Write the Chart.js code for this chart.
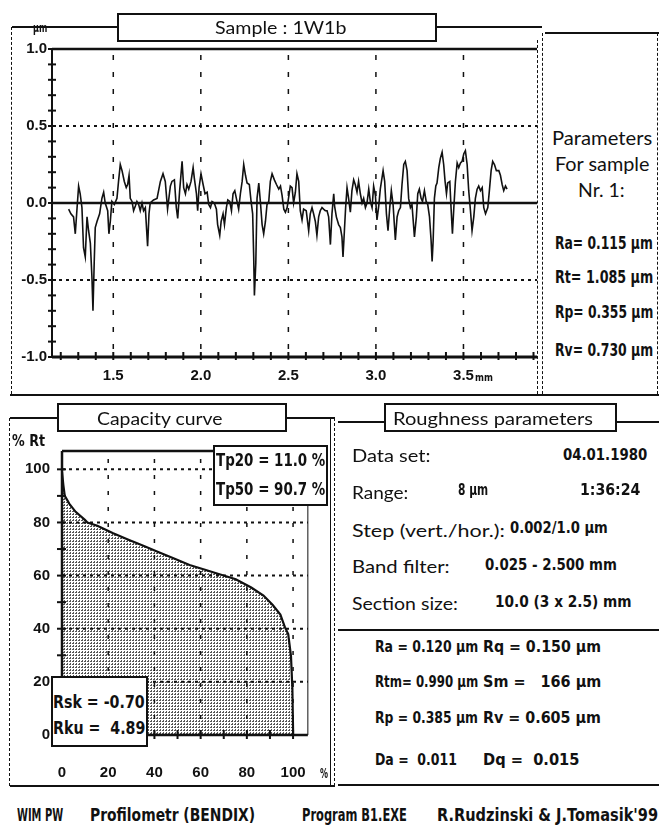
<!DOCTYPE html>
<html>
<head>
<meta charset="utf-8">
<script src="https://cdn.jsdelivr.net/npm/chart.js@4.4.0/dist/chart.umd.min.js"></script>
<style>
  body { margin: 0; background: #fff; }
  #page { position: relative; width: 659px; height: 839px; overflow: hidden; font-family: Lato, "Open Sans", sans-serif; color: #111; }
  .ln { position: absolute; background: #111; }
  .t { position: absolute; white-space: pre; line-height: 1; transform-origin: 0 50%; z-index: 4; }
  .dos { font-family: "DejaVu Sans", sans-serif; font-weight: bold; }
  .box { position: absolute; background: #fff; border: 2px solid #111; box-sizing: border-box; z-index: 3; }
  .holder { position: absolute; }
</style>
</head>
<body>
<div id="page">
  <div class="holder" style="left:0;top:0;width:545px;height:400px"><canvas id="profileChart" width="545" height="400"></canvas></div>
  <div class="holder" style="left:0;top:430px;width:335px;height:360px"><canvas id="capacityChart" width="335" height="360"></canvas></div>
</div>
<script>
// Profile trace (position in mm, height in um)
const profilePos = [
  1.245, 1.258, 1.273, 1.283, 1.292, 1.302, 1.311, 1.321, 1.330, 1.340, 1.350, 1.359, 1.369, 1.378, 1.384, 1.391,
  1.397, 1.407, 1.422, 1.435, 1.445, 1.454, 1.468, 1.475, 1.483, 1.492, 1.506, 1.521, 1.530, 1.540, 1.550, 1.563,
  1.574, 1.582, 1.590, 1.597, 1.607, 1.616, 1.626, 1.635, 1.645, 1.654, 1.664, 1.673, 1.683, 1.696, 1.704, 1.711,
  1.730, 1.750, 1.769, 1.784, 1.797, 1.810,
  1.826, 1.835, 1.849, 1.860, 1.868, 1.879, 1.893, 1.902, 1.912, 1.921, 1.931, 1.944, 1.956, 1.963, 1.975, 1.982,
  1.990, 2.001, 2.013, 2.024, 2.036, 2.045, 2.055, 2.064, 2.077, 2.089, 2.096, 2.108, 2.116, 2.127, 2.135, 2.146,
  2.154, 2.165, 2.175, 2.184, 2.194, 2.203, 2.216, 2.226, 2.236, 2.245, 2.255, 2.264, 2.277, 2.287, 2.296, 2.302,
  2.306, 2.314, 2.321, 2.331, 2.340, 2.350, 2.359, 2.369, 2.378, 2.388, 2.397, 2.407, 2.420, 2.432, 2.445, 2.455,
  2.464, 2.474, 2.483, 2.493,
  2.511, 2.521, 2.530, 2.540, 2.549, 2.559, 2.568, 2.578, 2.587, 2.602, 2.616, 2.625, 2.635, 2.644, 2.654, 2.663,
  2.673, 2.682, 2.692, 2.701, 2.711, 2.721, 2.730, 2.740, 2.749, 2.759, 2.764, 2.774, 2.787, 2.797, 2.806, 2.812,
  2.820, 2.827, 2.835, 2.844, 2.854, 2.863, 2.873, 2.882, 2.892, 2.901, 2.911, 2.921, 2.930, 2.940, 2.949, 2.959,
  2.968, 2.978, 2.987, 2.997, 3.006, 3.016, 3.025, 3.041, 3.050, 3.060, 3.069, 3.079, 3.088, 3.098, 3.111, 3.121,
  3.130, 3.140, 3.149, 3.159, 3.168, 3.178, 3.187, 3.197, 3.206, 3.220,
  3.231, 3.239, 3.248, 3.258, 3.266, 3.277, 3.287, 3.296, 3.306, 3.315, 3.321, 3.327, 3.334, 3.342, 3.349, 3.359,
  3.368, 3.378, 3.387, 3.395, 3.403, 3.410, 3.422, 3.429, 3.437, 3.445, 3.454, 3.464, 3.473, 3.483, 3.492, 3.502,
  3.511, 3.521, 3.530, 3.540, 3.549, 3.559, 3.568, 3.578, 3.587, 3.597, 3.607, 3.616, 3.626, 3.639, 3.648, 3.658,
  3.667, 3.677, 3.688, 3.702, 3.711, 3.721, 3.730, 3.740, 3.749
];
const profileHeight = [
  -0.04, -0.07, -0.09, -0.20, -0.05, 0.11, 0.06, -0.03, -0.29, -0.35, -0.09, -0.18, -0.26, -0.48, -0.70, -0.39,
  -0.16, -0.12, -0.07, 0.03, 0.07, 0.00, -0.05, -0.20, -0.12, 0.01, -0.01, 0.03, 0.14, 0.25, 0.21, 0.14,
  0.10, 0.12, 0.18, 0.03, 0.01, -0.05, -0.02, 0.01, -0.01, -0.05, 0.00, -0.05, -0.03, -0.28, -0.07, 0.00,
  0.02, 0.03, 0.14, 0.19, 0.14, -0.04,
  0.11, 0.14, 0.15, -0.03, -0.10, 0.08, 0.27, 0.10, 0.06, 0.12, 0.09, 0.14, 0.23, 0.16, 0.06, -0.05,
  0.10, 0.19, 0.12, 0.06, 0.07, -0.01, -0.03, 0.01, 0.00, -0.04, -0.14, -0.21, -0.12, -0.07, -0.14, -0.03,
  0.02, 0.01, -0.05, 0.06, 0.08, 0.03, -0.04, 0.06, 0.14, 0.25, 0.18, 0.13, 0.12, 0.01, -0.07, -0.35,
  -0.60, -0.39, 0.03, 0.13, 0.01, -0.14, -0.20, -0.12, -0.01, 0.01, 0.14, 0.19, 0.15, 0.12, 0.09, 0.11,
  0.05, -0.04, -0.06, -0.03,
  0.11, 0.10, 0.00, 0.07, 0.19, 0.14, -0.05, -0.11, -0.04, -0.05, -0.18, -0.07, -0.03, -0.07, -0.12, -0.21,
  -0.09, -0.05, -0.03, -0.04, -0.05, -0.05, -0.09, -0.27, -0.07, 0.06, -0.02, -0.09, -0.14, -0.16, -0.22, -0.35,
  -0.18, -0.03, 0.10, 0.03, -0.06, 0.08, 0.15, 0.12, 0.07, 0.14, 0.06, 0.00, 0.03, -0.03, 0.00, 0.09,
  0.01, -0.03, 0.11, 0.05, -0.11, -0.02, 0.09, 0.21, 0.14, -0.07, -0.18, -0.03, 0.08, -0.01, -0.24, -0.09,
  -0.05, -0.03, 0.12, 0.25, 0.27, 0.21, 0.03, -0.03, -0.01, -0.22,
  -0.09, 0.06, 0.09, 0.03, 0.01, 0.08, 0.01, -0.01, -0.09, -0.24, -0.38, -0.24, 0.03, 0.11, 0.13, 0.23,
  0.29, 0.33, 0.25, 0.14, 0.06, 0.13, 0.14, -0.03, -0.20, -0.03, 0.14, 0.26, 0.23, 0.26, 0.27, 0.32,
  0.34, 0.25, 0.08, -0.05, -0.18, -0.09, 0.03, 0.09, 0.11, 0.08, 0.10, -0.03, -0.07, -0.03, 0.08, 0.21,
  0.27, 0.25, 0.21, 0.21, 0.18, 0.12, 0.08, 0.11, 0.09
];

// Profile axes
const profileXLabels = [1.5, 2.0, 2.5, 3.0, 3.5];
const profileXMinor = [1.2, 1.3, 1.4, 1.5, 1.6, 1.7, 1.8, 1.9, 2.0, 2.1, 2.2, 2.3, 2.4, 2.5, 2.6, 2.7, 2.8, 2.9, 3.0, 3.1, 3.2, 3.3, 3.4, 3.5, 3.6, 3.7, 3.8, 3.9];
const profileYLabels = [-1.0, -0.5, 0.0, 0.5, 1.0];
const profileYMinor = [-1.0, -0.9, -0.8, -0.7, -0.6, -0.5, -0.4, -0.3, -0.2, -0.1, 0.0, 0.1, 0.2, 0.3, 0.4, 0.5, 0.6, 0.7, 0.8, 0.9, 1.0];
const profileDottedY = [0.5, -0.5];

// Capacity (bearing) curve: bearing ratio in %, level in % Rt
const bearingRatio = [0, 0.6, 1.2, 3.2, 5.9, 9.9, 11.0, 15.3, 21.9, 28.5, 35.2, 41.9, 48.5, 55.2, 61.9, 68.5, 75.2, 81.9, 87.2, 91.2, 94.5, 96.5, 97.9, 99.1, 99.7, 100, 100];
const bearingLevel = [99, 94, 90, 87, 84, 81, 80, 78.8, 76, 73.6, 71.2, 68.8, 66.4, 64, 62.2, 60.4, 58.6, 55.5, 52.5, 48.9, 45.3, 40.5, 38, 29.7, 17.5, 2, 0];
const capTicks = [0, 10, 20, 30, 40, 50, 60, 70, 80, 90, 100];
const capLabels = [0, 20, 40, 60, 80, 100];
const capDotted = [20, 40, 60, 80, 100];

const INK = '#111';
const tickFont = { family: '"Liberation Sans", Arial, sans-serif', weight: 'bold' };

// ---------- frames and text ----------
const page = document.getElementById('page');

function hline(x1, x2, y, w) {
  const d = document.createElement('div');
  d.className = 'ln';
  Object.assign(d.style, { left: x1 + 'px', top: (y - w / 2) + 'px', width: (x2 - x1) + 'px', height: w + 'px' });
  page.appendChild(d);
}
function vline(x, y1, y2, w, dashed) {
  const d = document.createElement('div');
  Object.assign(d.style, { position: 'absolute', left: (x - w / 2) + 'px', top: y1 + 'px', width: '0px', height: (y2 - y1) + 'px',
    borderLeft: w + 'px ' + (dashed ? 'dashed' : 'solid') + ' ' + INK });
  page.appendChild(d);
}
function box(x, y, w, h) {
  const d = document.createElement('div');
  d.className = 'box';
  Object.assign(d.style, { left: x + 'px', top: y + 'px', width: w + 'px', height: h + 'px' });
  page.appendChild(d);
}
// x is the left edge, centre or right edge (align); w is the width to squeeze the text into
function text(str, x, cy, size, w, opts) {
  opts = opts || {};
  const d = document.createElement('div');
  d.className = 't' + (opts.dos ? ' dos' : '');
  d.textContent = str;
  d.style.fontSize = size + 'px';
  d.style.top = (cy - size / 2) + 'px';
  page.appendChild(d);
  let left = x;
  if (opts.align === 'center') left = x - w / 2;
  if (opts.align === 'right') left = x - w;
  d.style.left = left + 'px';
  d.style.transform = 'scaleX(' + (w / d.offsetWidth) + ')';
}

// top panel
hline(12, 117, 27, 2);
box(117, 13, 320, 29);
hline(437, 542, 27, 2);
hline(545, 659, 33, 2);
vline(12, 27, 394, 1.5, true);
vline(538, 40, 394, 1.5, true);
vline(543, 33, 394, 1.5, true);
vline(657, 33, 394, 1, true);
hline(10, 659, 395, 2.5);
text('μm', 33, 28, 12, 14, { dos: true });
text('Sample : 1W1b', 281, 27, 18, 132, { align: 'center' });
text('Parameters', 602, 137, 19, 100, { align: 'center' });
text('For sample', 602, 163, 19, 95, { align: 'center' });
text('Nr. 1:', 601, 189, 19, 47, { align: 'center' });
text('Ra= 0.115 μm', 555, 243, 17, 98, { dos: true });
text('Rt= 1.085 μm', 555, 277, 17, 98, { dos: true });
text('Rp= 0.355 μm', 555, 312, 17, 98, { dos: true });
text('Rv= 0.730 μm', 555, 350, 17, 98, { dos: true });
text('mm', 475, 377, 11, 18, { dos: true });

// bottom-left panel
hline(10, 57, 418, 2);
box(57, 403, 230, 29);
hline(287, 335, 418, 2);
vline(10, 418, 786, 1.5, true);
hline(10, 335, 786, 2);
vline(331, 418, 786, 1.5, false);
vline(335, 418, 786, 1.5, true);
text('Capacity curve', 160, 418, 18, 126, { align: 'center' });
text('% Rt', 12, 441, 15, 33, { dos: true });
text('%', 320, 773, 14, 8, { dos: true });
box(213, 445, 115, 61);
text('Tp20 = 11.0 %', 216, 460, 17, 109, { dos: true });
text('Tp50 = 90.7 %', 216, 489, 17, 109, { dos: true });
box(51, 676, 97, 71);
text('Rsk = -0.70', 53, 702, 17, 92, { dos: true });
text('Rku =  4.89', 53, 728, 17, 92, { dos: true });

// bottom-right panel
hline(338, 384, 422, 2);
box(384, 403, 233, 29);
hline(617, 659, 422, 2);
hline(338, 659, 630, 2);
hline(338, 659, 785, 2);
text('Roughness parameters', 493, 418, 18, 200, { align: 'center' });
text('Data set:', 352, 455, 18, 78);
text('04.01.1980', 647, 455, 16, 84, { dos: true, align: 'right' });
text('Range:', 352, 492, 18, 56);
text('8 μm', 458, 490, 16, 30, { dos: true });
text('1:36:24', 640, 490, 16, 60, { dos: true, align: 'right' });
text('Step (vert./hor.):', 352, 530, 18, 153);
text('0.002/1.0 μm', 510, 528, 16, 98, { dos: true });
text('Band filter:', 352, 566, 18, 98);
text('0.025 - 2.500 mm', 485, 565, 16, 132, { dos: true });
text('Section size:', 352, 603, 18, 106);
text('10.0 (3 x 2.5) mm', 495, 602, 16, 137, { dos: true });
text('Ra = 0.120 μm', 375, 647, 16, 103, { dos: true });
text('Rq = 0.150 μm', 483, 647, 16, 118, { dos: true });
text('Rtm= 0.990 μm', 375, 682, 16, 103, { dos: true });
text('Sm =   166 μm', 483, 682, 16, 118, { dos: true });
text('Rp = 0.385 μm', 375, 718, 16, 103, { dos: true });
text('Rv = 0.605 μm', 483, 718, 16, 118, { dos: true });
text('Da =  0.011', 375, 760, 16, 82, { dos: true });
text('Dq =  0.015', 483, 760, 16, 96, { dos: true });

// footer
text('WIM PW', 17, 815, 17, 46, { dos: true });
text('Profilometr (BENDIX)', 90, 815, 17, 165, { dos: true });
text('Program B1.EXE', 302, 815, 17, 105, { dos: true });
text("R.Rudzinski & J.Tomasik'99", 437, 815, 17, 221, { dos: true });

// ---------- chart helpers ----------
function seg(ctx, x1, y1, x2, y2) {
  ctx.beginPath();
  ctx.moveTo(x1, y1);
  ctx.lineTo(x2, y2);
  ctx.stroke();
}

// Profile grid, axes and + tick marks
const profileGuides = {
  id: 'profileGuides',
  beforeDatasetsDraw(chart) {
    const { ctx, chartArea: a, scales: { x, y } } = chart;
    ctx.save();
    ctx.strokeStyle = INK;
    ctx.lineWidth = 2;
    ctx.setLineDash([3, 4]);
    profileDottedY.forEach(v => seg(ctx, a.left, y.getPixelForValue(v), a.right, y.getPixelForValue(v)));
    ctx.lineWidth = 1.5;
    ctx.setLineDash([5, 12]);
    profileXLabels.forEach(v => seg(ctx, x.getPixelForValue(v), a.top + 6, x.getPixelForValue(v), a.bottom));
    ctx.setLineDash([]);
    ctx.lineWidth = 2.5;
    seg(ctx, a.left, y.getPixelForValue(0), a.right, y.getPixelForValue(0));
    seg(ctx, a.left, a.top, a.right, a.top);
    ctx.lineWidth = 3;
    seg(ctx, a.left, a.bottom, a.right, a.bottom);
    ctx.lineWidth = 2;
    seg(ctx, a.left, a.top, a.left, a.bottom);
    profileYMinor.forEach(v => {
      const py = y.getPixelForValue(v);
      seg(ctx, a.left - 4, py, a.left + 4, py);
    });
    profileXMinor.forEach(v => {
      const px = x.getPixelForValue(v);
      seg(ctx, px, a.bottom - 5, px, a.bottom + 3);
    });
    ctx.restore();
  }
};

// Capacity grid, axes and tick marks
const capacityGuides = {
  id: 'capacityGuides',
  afterDatasetsDraw(chart) {
    const { ctx, chartArea: a, scales: { x, y } } = chart;
    ctx.save();
    ctx.strokeStyle = INK;
    ctx.lineWidth = 2;
    ctx.setLineDash([3, 4]);
    capDotted.forEach(v => seg(ctx, a.left, y.getPixelForValue(v), a.right, y.getPixelForValue(v)));
    ctx.lineWidth = 1.5;
    ctx.setLineDash([4, 12]);
    capDotted.forEach(v => seg(ctx, x.getPixelForValue(v), a.top + 8, x.getPixelForValue(v), a.bottom));
    ctx.setLineDash([]);
    ctx.lineWidth = 2.5;
    seg(ctx, a.left, a.top, a.right, a.top);
    seg(ctx, a.left, a.bottom, a.right, a.bottom);
    seg(ctx, a.left, a.top, a.left, a.bottom);
    ctx.lineWidth = 1;
    seg(ctx, a.right, a.top, a.right, a.bottom);
    ctx.lineWidth = 2;
    capTicks.forEach(v => {
      const py = y.getPixelForValue(v);
      seg(ctx, a.left - 5, py, a.left + 4, py);
      const px = x.getPixelForValue(v);
      seg(ctx, px, a.bottom - 5, px, a.bottom + 4);
    });
    ctx.restore();
  }
};

function stipple() {
  const c = document.createElement('canvas');
  c.width = 3;
  c.height = 3;
  const g = c.getContext('2d');
  g.fillStyle = '#fff';
  g.fillRect(0, 0, 3, 3);
  g.fillStyle = '#555';
  g.fillRect(0, 0, 2, 1);
  g.fillRect(1, 2, 1, 1);
  return g.createPattern(c, 'repeat');
}

Chart.defaults.color = INK;
const noGrid = { display: false, drawTicks: false, tickLength: 0 };

// ---------- profile chart ----------
new Chart(document.getElementById('profileChart'), {
  type: 'line',
  data: {
    datasets: [{
      data: profilePos.map((p, i) => ({ x: p, y: profileHeight[i] })),
      borderColor: INK,
      borderWidth: 1.6,
      pointRadius: 0,
      tension: 0,
      fill: false
    }]
  },
  options: {
    responsive: false,
    devicePixelRatio: 1,
    animation: false,
    events: [],
    layout: { padding: { top: 49, right: 8, left: 0, bottom: 0 } },
    plugins: { legend: { display: false }, tooltip: { enabled: false } },
    scales: {
      x: {
        type: 'linear', min: 1.15, max: 3.92,
        grid: noGrid, border: { display: false },
        afterBuildTicks: s => { s.ticks = profileXLabels.map(v => ({ value: v })); },
        afterFit: s => { s.height = 43; },
        ticks: { padding: 10, maxRotation: 0, autoSkip: false, font: { ...tickFont, size: 15 }, callback: v => v.toFixed(1) }
      },
      y: {
        type: 'linear', min: -1.0, max: 1.0,
        grid: noGrid, border: { display: false },
        afterBuildTicks: s => { s.ticks = profileYLabels.map(v => ({ value: v })); },
        afterFit: s => { s.width = 52; },
        ticks: { padding: 5, autoSkip: false, font: { ...tickFont, size: 15 }, callback: v => v.toFixed(1) }
      }
    }
  },
  plugins: [profileGuides]
});

// ---------- capacity chart ----------
new Chart(document.getElementById('capacityChart'), {
  type: 'line',
  data: {
    datasets: [{
      data: bearingRatio.map((r, i) => ({ x: r, y: bearingLevel[i] })),
      borderColor: INK,
      borderWidth: 2.2,
      pointRadius: 0,
      tension: 0,
      fill: 'origin',
      backgroundColor: stipple()
    }]
  },
  options: {
    responsive: false,
    devicePixelRatio: 1,
    animation: false,
    events: [],
    layout: { padding: { top: 10, right: 7, left: 0, bottom: 0 } },
    plugins: { legend: { display: false }, tooltip: { enabled: false } },
    scales: {
      x: {
        type: 'linear', min: 0, max: 106.4,
        grid: noGrid, border: { display: false },
        afterBuildTicks: s => { s.ticks = capLabels.map(v => ({ value: v })); },
        afterFit: s => { s.height = 55; },
        ticks: { padding: 29, maxRotation: 0, autoSkip: false, font: { ...tickFont, size: 15 }, callback: v => String(v) }
      },
      y: {
        type: 'linear', min: 0, max: 106.9,
        grid: noGrid, border: { display: false },
        afterBuildTicks: s => { s.ticks = capLabels.map(v => ({ value: v })); },
        afterFit: s => { s.width = 62; },
        ticks: { padding: 12, autoSkip: false, font: { ...tickFont, size: 15 }, callback: v => String(v) }
      }
    }
  },
  plugins: [capacityGuides]
});
</script>
</body>
</html>
